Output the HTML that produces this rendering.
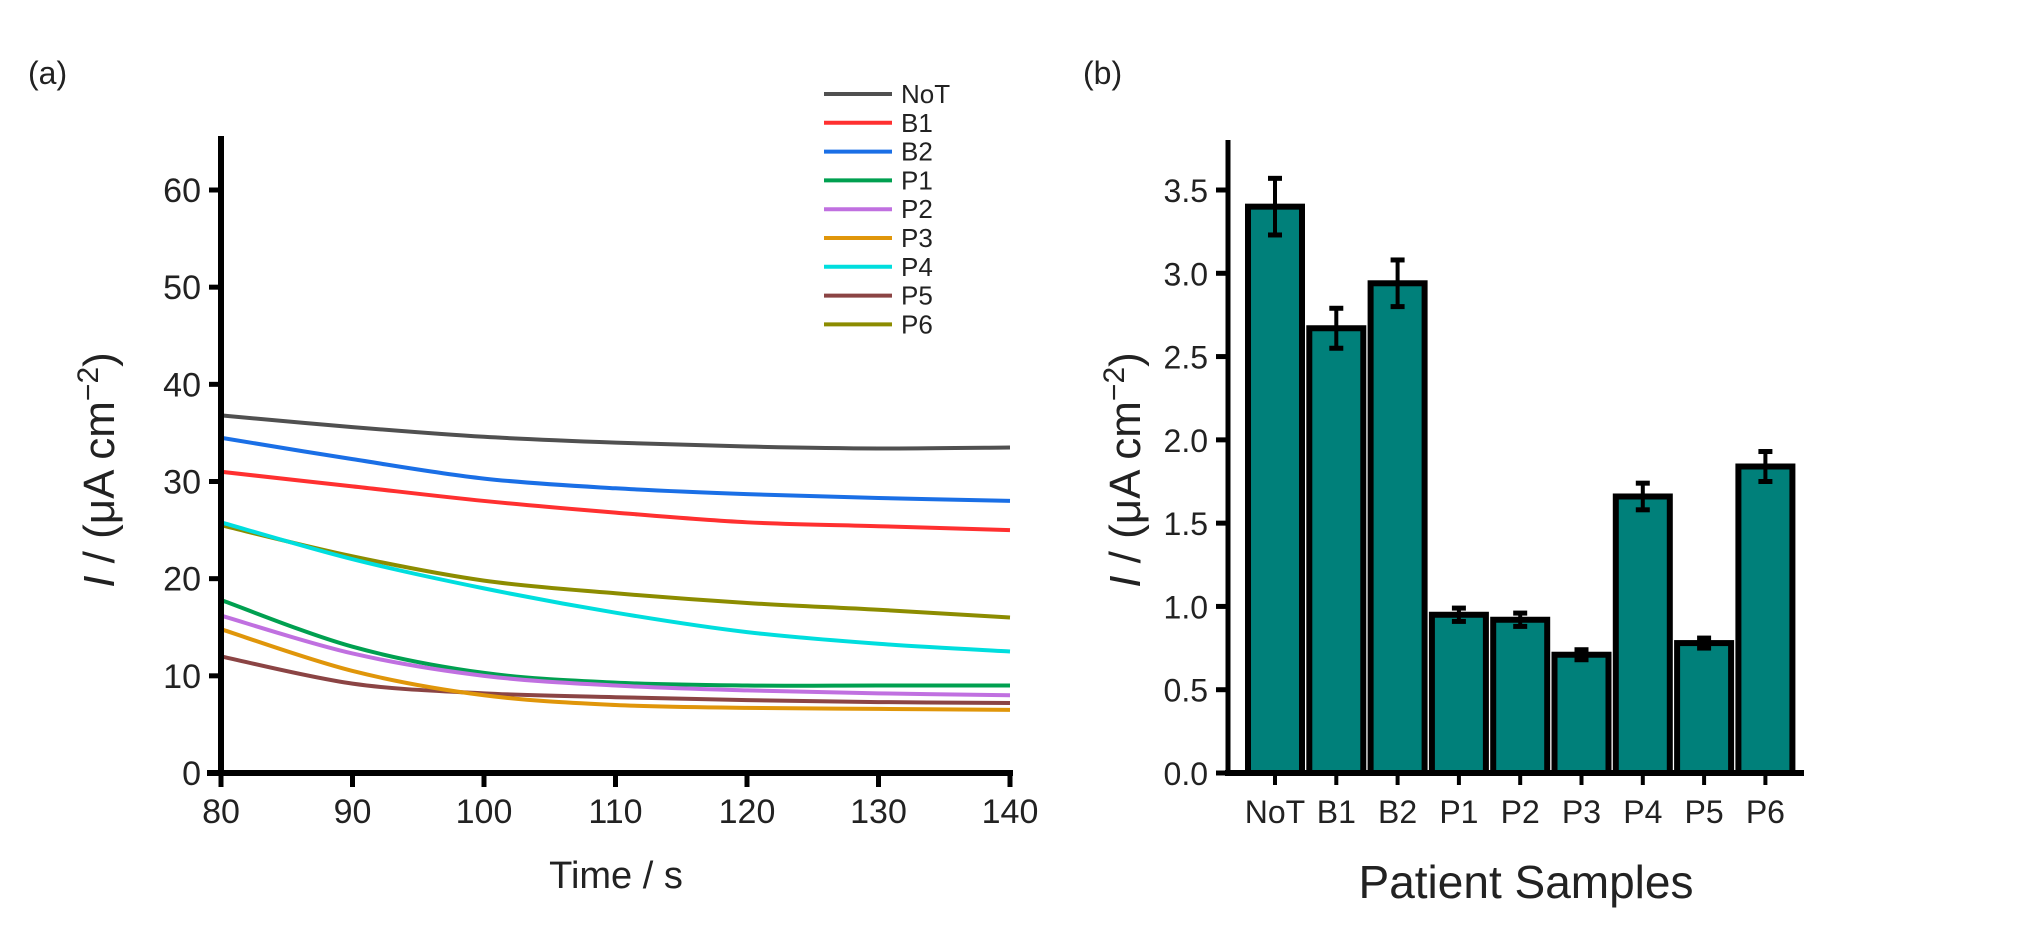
<!DOCTYPE html>
<html><head><meta charset="utf-8"><style>
body{margin:0;background:#fff}
svg{display:block;font-family:"Liberation Sans",Arial,sans-serif}
</style></head><body>
<svg id="fig" width="2028" height="934" viewBox="0 0 2028 934"></svg>
<script>
// ---- panel (a) data ----
const times = [80, 90, 100, 110, 120, 130, 140];
const seriesNames = ["NoT","B1","B2","P1","P2","P3","P4","P5","P6"];
const seriesColors = ["#505050","#ff3030","#1a6fe6","#00a050","#c070e0","#e0960a","#00dede","#8b4444","#8c8c00"];
const valNoT = [36.8, 35.6, 34.6, 34.0, 33.6, 33.4, 33.5];
const valB1  = [31.0, 29.5, 28.0, 26.8, 25.8, 25.4, 25.0];
const valB2  = [34.5, 32.3, 30.3, 29.3, 28.7, 28.3, 28.0];
const valP1  = [17.8, 13.0, 10.3, 9.3, 9.0, 9.0, 9.0];
const valP2  = [16.2, 12.3, 10.0, 9.0, 8.5, 8.2, 8.0];
const valP3  = [14.8, 10.5, 8.0, 7.0, 6.7, 6.6, 6.5];
const valP4  = [25.8, 22.0, 19.0, 16.5, 14.5, 13.3, 12.5];
const valP5  = [12.0, 9.2, 8.2, 7.8, 7.5, 7.3, 7.2];
const valP6  = [25.5, 22.3, 19.8, 18.5, 17.5, 16.8, 16.0];
const seriesVals = [valNoT, valB1, valB2, valP1, valP2, valP3, valP4, valP5, valP6];
const aYTicks = [0, 10, 20, 30, 40, 50, 60];
const aXTicks = [80, 90, 100, 110, 120, 130, 140];
// ---- panel (b) data ----
const barCats = ["NoT","B1","B2","P1","P2","P3","P4","P5","P6"];
const barVals = [3.40, 2.67, 2.94, 0.95, 0.92, 0.71, 1.66, 0.78, 1.84];
const barErrs = [0.17, 0.12, 0.14, 0.04, 0.04, 0.03, 0.08, 0.03, 0.09];
const bYTicks = ["0.0","0.5","1.0","1.5","2.0","2.5","3.0","3.5"];

const NS = "http://www.w3.org/2000/svg";
const svg = document.getElementById("fig");
function mk(tag, attrs, parent, text){
  const e = document.createElementNS(NS, tag);
  for (const k in attrs) e.setAttribute(k, attrs[k]);
  if (text !== undefined) e.textContent = text;
  (parent || svg).appendChild(e);
  return e;
}

// ===== Panel A =====
const ax0 = 221, ax1 = 1010, ay0 = 773, ay60 = 190;
const xA = t => ax0 + (t - 80) / 60 * (ax1 - ax0);
const yA = v => ay0 - v / 60 * (ay0 - ay60);

const gA = mk("g", {});


let t = mk("text", {x: 28, y: 84, "font-size": 32, fill: "#222"}, gA, "(a)");



function smoothPath(pts){
  let d = `M${pts[0][0]},${pts[0][1]}`;
  for (let i = 0; i < pts.length - 1; i++){
    const p0 = pts[Math.max(i-1,0)], p1 = pts[i], p2 = pts[i+1], p3 = pts[Math.min(i+2,pts.length-1)];
    const c1x = p1[0] + (p2[0]-p0[0])/6, c1y = p1[1] + (p2[1]-p0[1])/6;
    const c2x = p2[0] - (p3[0]-p1[0])/6, c2y = p2[1] - (p3[1]-p1[1])/6;
    d += ` C${c1x},${c1y} ${c2x},${c2y} ${p2[0]},${p2[1]}`;
  }
  return d;
}
const drawOrder = [8, 6, 0, 2, 1, 3, 4, 7, 5];
drawOrder.forEach(i => {
  const pts = times.map((tt, j) => [xA(tt), yA(seriesVals[i][j])]);
  const p = mk("path", {d: smoothPath(pts), fill: "none", stroke: seriesColors[i], "stroke-width": 4}, gA);
  
  
});

let l = mk("line", {x1: ax0, y1: 136, x2: ax0, y2: ay0 + 3, stroke: "#000", "stroke-width": 6}, gA);


l = mk("line", {x1: ax0 - 14, y1: ay0, x2: ax1 + 3, y2: ay0, stroke: "#000", "stroke-width": 6}, gA);


aYTicks.forEach(v => {
  const tk = mk("line", {x1: ax0 - 12, y1: yA(v), x2: ax0, y2: yA(v), stroke: "#000", "stroke-width": 5}, gA);
  
  
  const lb = mk("text", {x: ax0 - 20, y: yA(v) + 12, "font-size": 34, "text-anchor": "end", fill: "#222"}, gA, String(v));
  
  
});
aXTicks.forEach(v => {
  const tk = mk("line", {x1: xA(v), y1: ay0, x2: xA(v), y2: ay0 + 14, stroke: "#000", "stroke-width": 5}, gA);
  
  
  const lb = mk("text", {x: xA(v), y: ay0 + 50, "font-size": 34, "text-anchor": "middle", fill: "#222"}, gA, String(v));
  
  
});
t = mk("text", {x: 616, y: 888, "font-size": 38, "text-anchor": "middle", fill: "#222"}, gA, "Time / s");


t = mk("text", {transform: "translate(114,470) rotate(-90)", "font-size": 44, "text-anchor": "middle", fill: "#222"}, gA);
t.innerHTML = '<tspan font-style="italic">I</tspan> / (μA cm<tspan dy="-16" font-size="30">−2</tspan><tspan dy="16">)</tspan>';



// legend
seriesNames.forEach((n, i) => {
  const y = 94 + i * 28.8;
  const g = mk("g", {}, gA);
  
  
  mk("line", {x1: 824, y1: y, x2: 892, y2: y, stroke: seriesColors[i], "stroke-width": 4}, g);
  mk("text", {x: 901, y: y + 9, "font-size": 26, fill: "#222"}, g, n);
});

// ===== Panel B =====
const bx0 = 1228, bx1 = 1804, by0 = 773, by35 = 190;
const yB = v => by0 - v / 3.5 * (by0 - by35);
const xB = i => 1275 + i * 61.3;
const gB = mk("g", {});


t = mk("text", {x: 1083, y: 84, "font-size": 32, fill: "#222"}, gB, "(b)");



barCats.forEach((c, i) => {
  const cx = xB(i), w = 54;
  const r = mk("rect", {x: cx - w/2, y: yB(barVals[i]), width: w, height: by0 - yB(barVals[i]), fill: "#00807a", stroke: "#000", "stroke-width": 6}, gB);
  
  
  const hi = yB(barVals[i] + barErrs[i]), lo = yB(barVals[i] - barErrs[i]);
  const eg = mk("g", {stroke: "#000", "stroke-width": 4}, gB);
  
  
  mk("line", {x1: cx, y1: hi, x2: cx, y2: lo}, eg);
  mk("line", {x1: cx - 7, y1: hi, x2: cx + 7, y2: hi, "stroke-width": 5}, eg);
  mk("line", {x1: cx - 7, y1: lo, x2: cx + 7, y2: lo, "stroke-width": 5}, eg);
  const tk = mk("line", {x1: cx, y1: by0, x2: cx, y2: by0 + 12, stroke: "#000", "stroke-width": 4}, gB);
  
  
  const lb = mk("text", {x: cx, y: by0 + 50, "font-size": 32, "text-anchor": "middle", fill: "#222"}, gB, c);
  
  
});
l = mk("line", {x1: bx0, y1: 140, x2: bx0, y2: by0 + 3, stroke: "#000", "stroke-width": 5}, gB);


l = mk("line", {x1: bx0 - 3, y1: by0, x2: bx1, y2: by0, stroke: "#000", "stroke-width": 6}, gB);


bYTicks.forEach(s => {
  const v = parseFloat(s);
  const tk = mk("line", {x1: bx0 - 12, y1: yB(v), x2: bx0, y2: yB(v), stroke: "#000", "stroke-width": 5}, gB);
  
  
  const lb = mk("text", {x: bx0 - 20, y: yB(v) + 12, "font-size": 32, "text-anchor": "end", fill: "#222"}, gB, s);
  
  
});
t = mk("text", {x: 1526, y: 898, "font-size": 46, "text-anchor": "middle", fill: "#222"}, gB, "Patient Samples");


t = mk("text", {transform: "translate(1140,470) rotate(-90)", "font-size": 44, "text-anchor": "middle", fill: "#222"}, gB);
t.innerHTML = '<tspan font-style="italic">I</tspan> / (μA cm<tspan dy="-16" font-size="30">−2</tspan><tspan dy="16">)</tspan>';


</script>
</body></html>
